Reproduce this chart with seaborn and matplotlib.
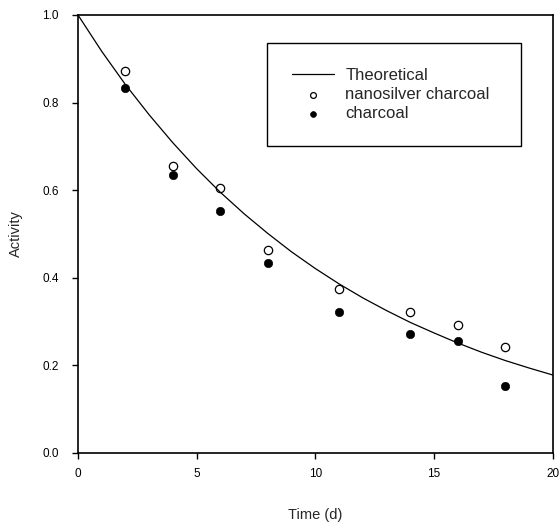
import matplotlib
matplotlib.use('Agg')
import matplotlib.pyplot as plt
import numpy as np
import pandas as pd
import seaborn as sns

# theoretical decay curve at every day
theory_t = [0, 1, 2, 3, 4, 5, 6, 7, 8, 9, 10, 11, 12, 13, 14, 15, 16, 17, 18, 19, 20]
theory_a = [1.0, 0.917, 0.841, 0.772, 0.708, 0.649, 0.595, 0.546, 0.501, 0.459, 0.421,
            0.386, 0.354, 0.325, 0.298, 0.274, 0.251, 0.230, 0.211, 0.194, 0.178]

# measured points
time_d = [2, 4, 6, 8, 11, 14, 16, 18]
nanosilver = [0.872, 0.655, 0.605, 0.463, 0.374, 0.322, 0.292, 0.242]
charcoal = [0.833, 0.635, 0.552, 0.434, 0.322, 0.272, 0.255, 0.153]

sns.set_style("ticks")
plt.rcParams['font.family'] = ['Liberation Sans', 'DejaVu Sans']

fig = plt.figure(figsize=(5.59, 5.26), dpi=100)
ax = fig.add_axes([0.1395, 0.1388, 0.8495, 0.8327])

sns.lineplot(x=theory_t, y=theory_a, ax=ax, color='black', linewidth=0.9, label='Theoretical')
sns.scatterplot(x=time_d, y=nanosilver, ax=ax, marker='o', s=36, facecolor='white',
                edgecolor='black', linewidth=0.9, label='nanosilver charcoal')
sns.scatterplot(x=time_d, y=charcoal, ax=ax, marker='o', s=36, color='black',
                edgecolor='black', label='charcoal')

ax.set_xlim(0, 20)
ax.set_ylim(0, 1.0)
ax.set_xticks([0, 5, 10, 15, 20])
ax.set_yticks([0.0, 0.2, 0.4, 0.6, 0.8, 1.0])
ax.set_yticklabels(['0.0', '0.2', '0.4', '0.6', '0.8', '1.0'])
ax.tick_params(direction='out', length=4, width=1, labelsize=8.5, colors='black')
ax.tick_params(axis='y', pad=10)
ax.tick_params(axis='x', pad=7)
for s in ax.spines.values():
    s.set_visible(True)
    s.set_linewidth(1.2)
    s.set_color('black')

ax.set_xlabel('Time (d)', fontsize=10.5, labelpad=20)
ax.set_ylabel('Activity', fontsize=10.5, labelpad=14)

leg = ax.legend(loc='upper left', bbox_to_anchor=(0.398, 0.678, 0.535, 0.258),
                mode='expand', fontsize=12,
                frameon=True, fancybox=False, edgecolor='black', framealpha=1,
                borderaxespad=0, handlelength=2.5, handletextpad=0.7,
                markerscale=0.7, borderpad=1.5, labelspacing=0.25)
leg.get_frame().set_linewidth(1.0)

fig.savefig('out.png', dpi=100)
